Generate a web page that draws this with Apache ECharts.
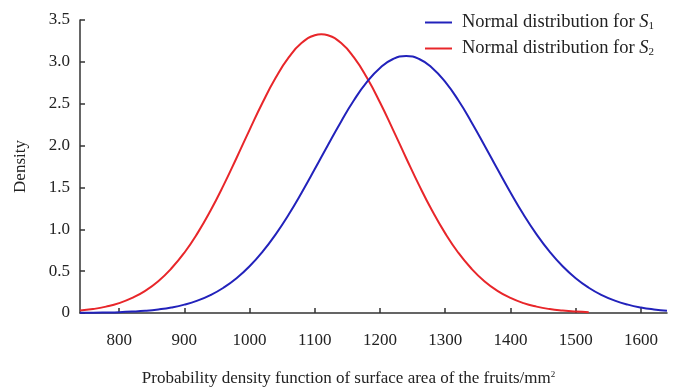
<!DOCTYPE html>
<html><head><meta charset="utf-8">
<script src="https://cdn.jsdelivr.net/npm/echarts@6/dist/echarts.min.js"></script>
<style>html,body{margin:0;padding:0;background:#fff}#c{width:675px;height:387px}</style>
</head><body><div id="c"></div>
<script>
const s1X = [740,760,780,800,820,840,860,880,900,920,940,960,980,1000,1020,1040,1060,1080,1100,1120,1140,1160,1180,1200,1220,1240,1260,1280,1300,1320,1340,1360,1380,1400,1420,1440,1460,1480,1500,1520,1540,1560,1580,1600,1620,1640];
const s1Density = [0.002,0.003,0.006,0.010,0.017,0.027,0.043,0.066,0.100,0.148,0.214,0.302,0.415,0.558,0.733,0.940,1.177,1.440,1.719,2.005,2.283,2.541,2.760,2.928,3.034,3.070,3.034,2.928,2.760,2.541,2.283,2.005,1.719,1.440,1.177,0.940,0.733,0.558,0.415,0.302,0.214,0.148,0.100,0.066,0.043,0.027];
const s2X = [740,760,780,800,820,840,860,880,900,920,940,960,980,1000,1020,1040,1060,1080,1100,1110,1120,1140,1160,1180,1200,1220,1240,1260,1280,1300,1320,1340,1360,1380,1400,1420,1440,1460,1480,1500,1520];
const s2Density = [0.029,0.047,0.076,0.118,0.180,0.265,0.380,0.531,0.720,0.951,1.221,1.524,1.852,2.188,2.514,2.809,3.053,3.227,3.318,3.330,3.318,3.227,3.053,2.809,2.514,2.188,1.852,1.524,1.221,0.951,0.720,0.531,0.380,0.265,0.180,0.118,0.076,0.047,0.029,0.017,0.010];
const xTicks = [800,900,1000,1100,1200,1300,1400,1500,1600];
const seriesNames = ['Normal distribution for S1','Normal distribution for S2'];

const font = 'Liberation Serif';
const fs = 17;
const chart = echarts.init(document.getElementById('c'));
const s1 = s1X.map((x,i)=>[x,s1Density[i]]);
const s2 = s2X.map((x,i)=>[x,s2Density[i]]);
chart.setOption({
  animation:false,
  textStyle:{fontFamily:font},
  grid:{left:80,right:8,top:20,bottom:74,outerBoundsMode:'none',containLabel:false},
  legend:{
    orient:'vertical', right:16, top:8, itemGap:7,
    icon:'rect', itemWidth:27, itemHeight:2,
    data:seriesNames,
    formatter:function(n){return '{a|Normal distribution for }{i|S}{s|'+n.slice(-1)+'}';},
    textStyle:{fontFamily:font,fontSize:18.5,color:'#222',padding:[0,0,0,5],
      rich:{a:{fontFamily:font,fontSize:18.5,color:'#222'},
            i:{fontFamily:font,fontSize:18.5,fontStyle:'italic',color:'#222'},
            s:{fontFamily:font,fontSize:11,color:'#222',verticalAlign:'bottom',padding:[7,0,0,0]}}}
  },
  xAxis:{
    type:'value', min:740, max:1640,
    name:'Probability density function of surface area of the fruits/mm{sup|2}',
    nameLocation:'middle', nameGap:57,
    nameTextStyle:{fontFamily:font,fontSize:fs,color:'#222',padding:[0,50,0,0],
      rich:{sup:{fontFamily:font,fontSize:9,color:'#222',verticalAlign:'top',padding:[0,0,9,0]}}},
    axisLine:{lineStyle:{color:'#333',width:1.5}},
    axisTick:{inside:true,length:5,customValues:xTicks,lineStyle:{color:'#333',width:1.5}},
    axisLabel:{customValues:xTicks,fontFamily:font,fontSize:fs,color:'#222',margin:19,
      formatter:function(v){return String(v);}},
    splitLine:{show:false}
  },
  yAxis:{
    type:'value', min:0, max:3.5, interval:0.5,
    name:'Density', nameLocation:'middle', nameGap:51, nameRotate:90,
    nameTextStyle:{fontFamily:font,fontSize:fs,color:'#222'},
    axisLine:{show:true,lineStyle:{color:'#333',width:1.5}},
    axisTick:{show:true,inside:true,length:5,lineStyle:{color:'#333',width:1.5}},
    axisLabel:{fontFamily:font,fontSize:fs,color:'#222',margin:10,
      formatter:function(v){return v===0?'0':v.toFixed(1);}},
    splitLine:{show:false}
  },
  series:[
    {name:seriesNames[0],type:'line',data:s1,smooth:true,showSymbol:false,
     lineStyle:{color:'#2222bb',width:2},itemStyle:{color:'#2222bb'},z:3},
    {name:seriesNames[1],type:'line',data:s2,smooth:true,showSymbol:false,
     lineStyle:{color:'#e8262a',width:2},itemStyle:{color:'#e8262a'},z:2}
  ]
});
</script></body></html>
